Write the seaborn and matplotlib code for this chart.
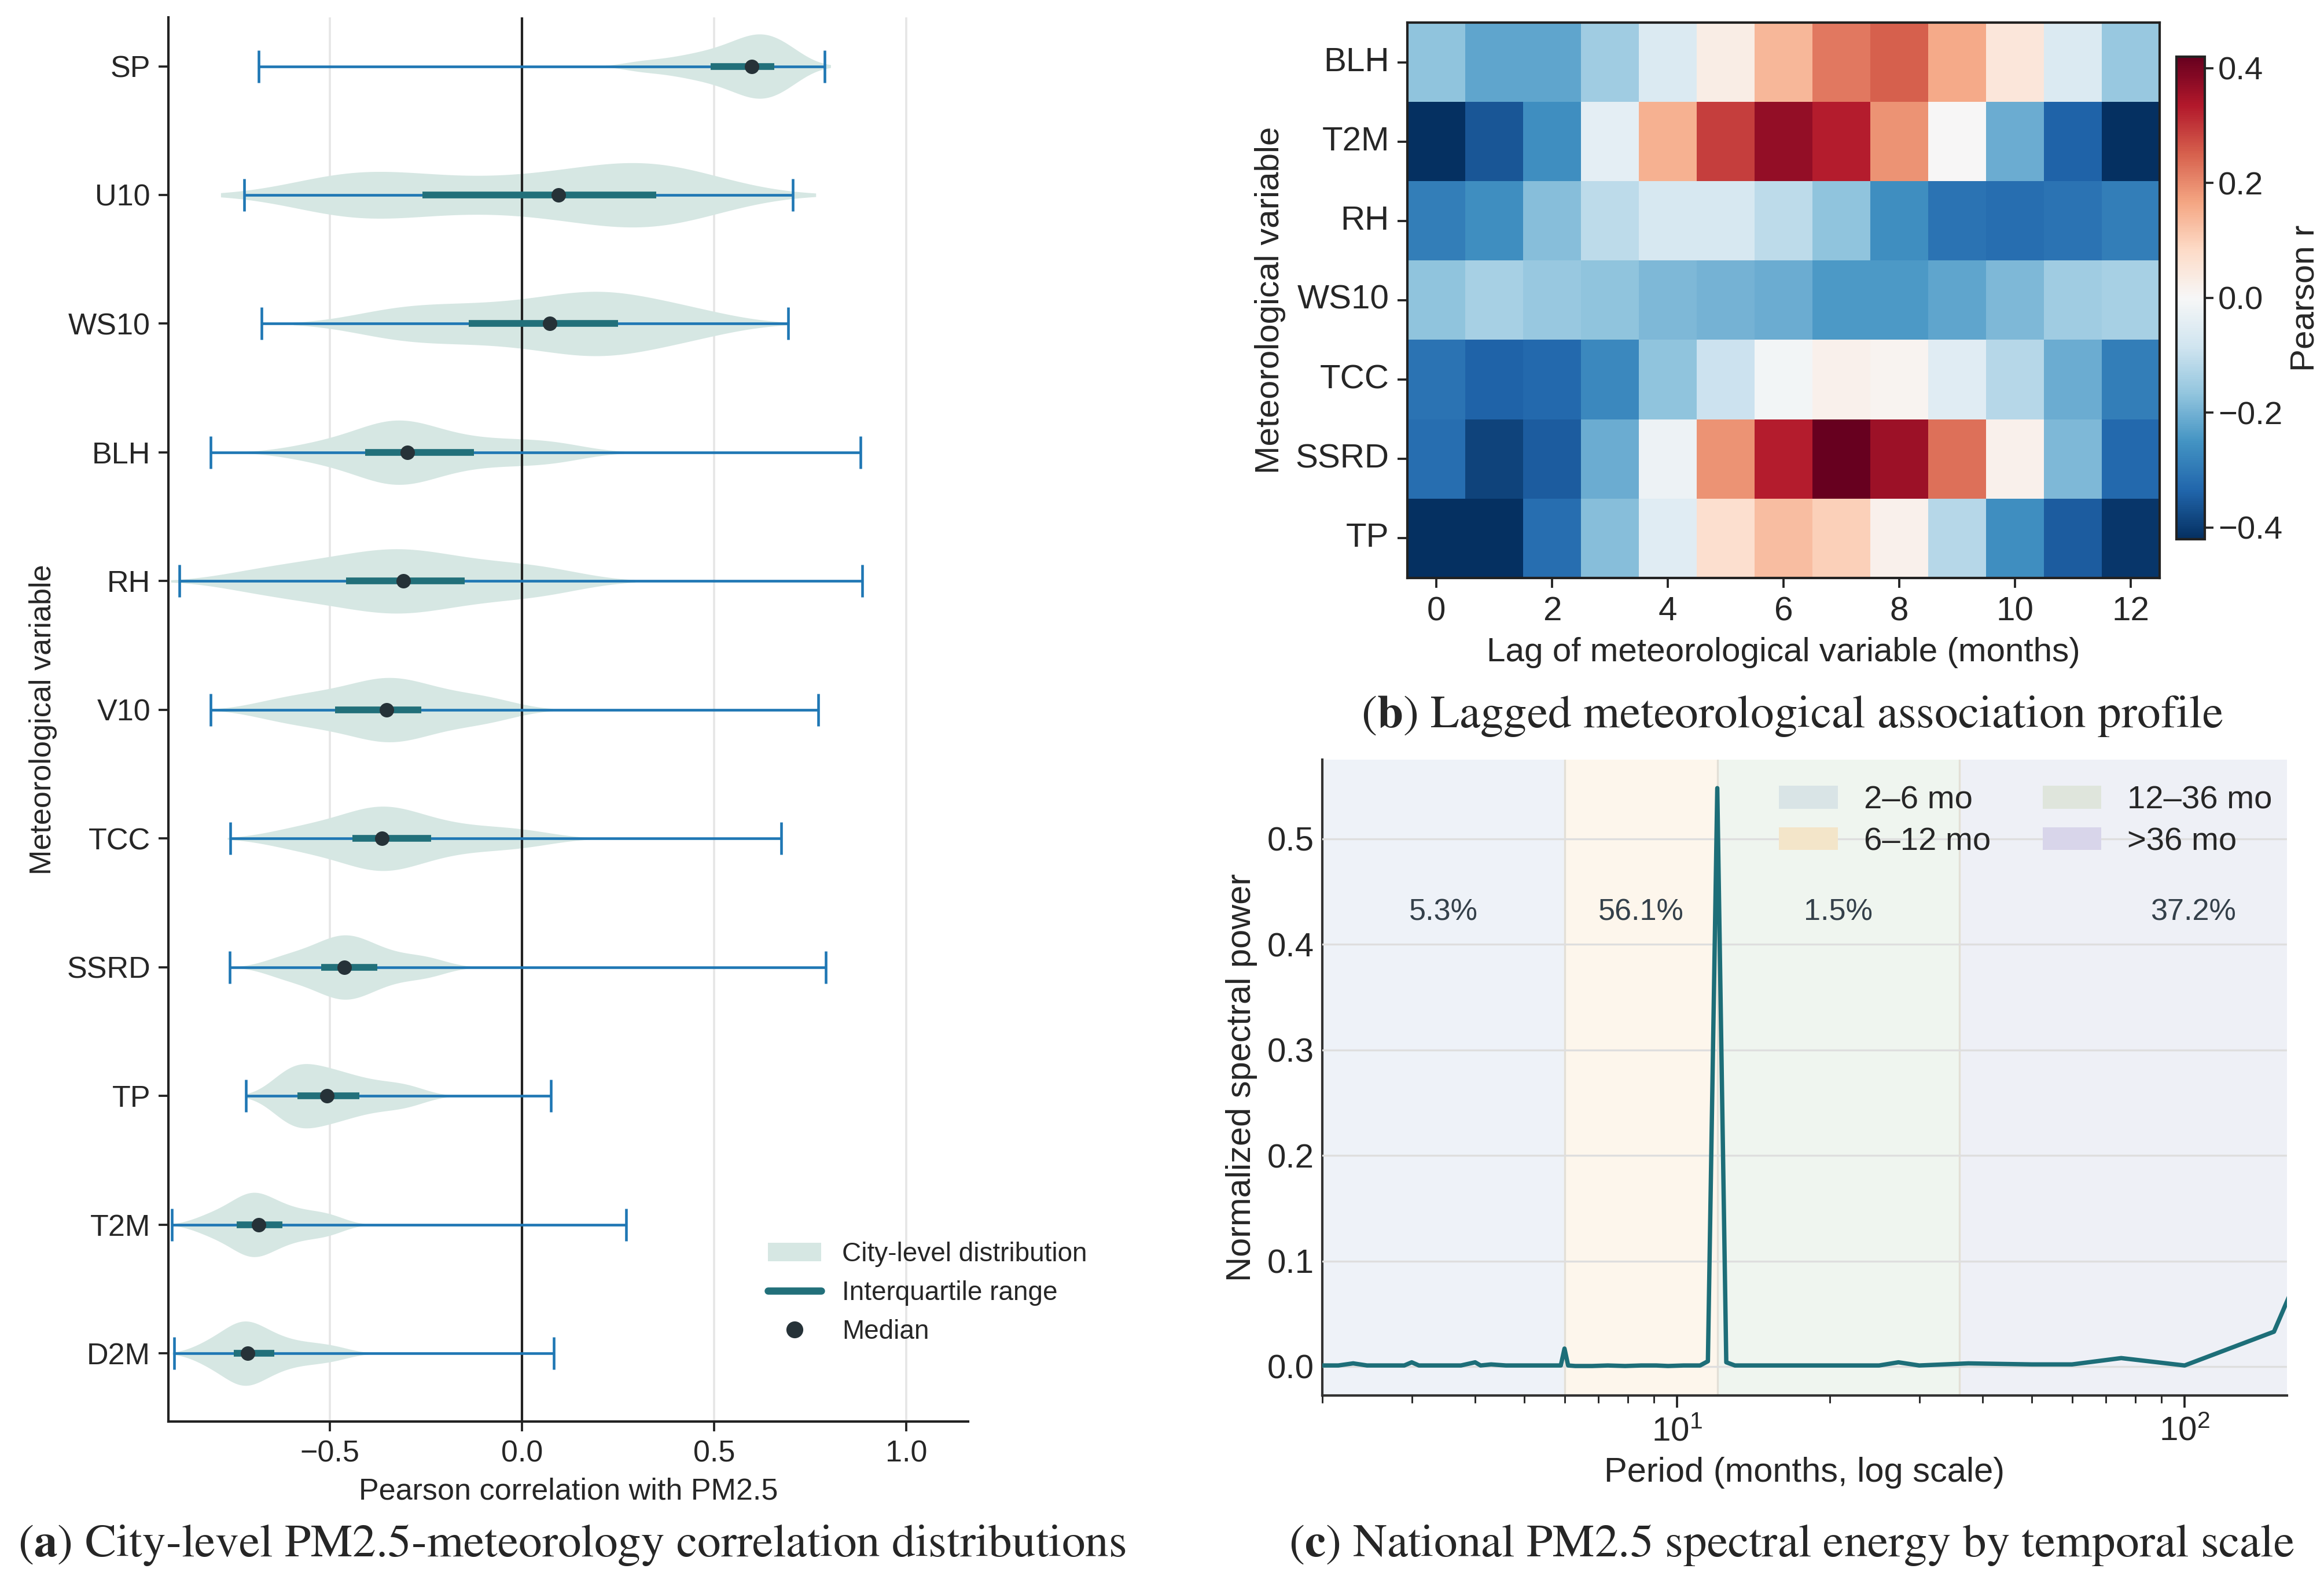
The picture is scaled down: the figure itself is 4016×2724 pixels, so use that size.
import numpy as np
import pandas as pd
import seaborn as sns
import matplotlib.pyplot as plt
from matplotlib.patches import Patch
from matplotlib.lines import Line2D

# ---------------- (a) city-level correlation distributions ----------------
variables = ["SP", "U10", "WS10", "BLH", "RH", "V10", "TCC", "SSRD", "TP", "T2M", "D2M"]
r_min = [-0.686, -0.723, -0.678, -0.810, -0.892, -0.810, -0.759, -0.760, -0.718, -0.911, -0.905]
r_max = [0.787, 0.704, 0.692, 0.880, 0.885, 0.771, 0.674, 0.790, 0.075, 0.270, 0.083]
r_q1 = [0.491, -0.260, -0.139, -0.408, -0.458, -0.486, -0.442, -0.523, -0.585, -0.743, -0.750]
r_med = [0.597, 0.095, 0.072, -0.298, -0.309, -0.352, -0.365, -0.463, -0.508, -0.685, -0.714]
r_q3 = [0.656, 0.349, 0.249, -0.126, -0.150, -0.262, -0.237, -0.376, -0.423, -0.624, -0.645]

# bulk of the city values (shape of each violin)
sp_r = [0.31, 0.39, 0.44, 0.48, 0.51, 0.54, 0.56, 0.58, 0.60, 0.61, 0.62, 0.64, 0.65, 0.67, 0.69, 0.71]
u10_r = [-0.50, -0.47, -0.43, -0.37, -0.28, -0.18, -0.06, 0.05, 0.12, 0.20, 0.26, 0.30, 0.33, 0.37, 0.42, 0.48]
ws10_r = [-0.38, -0.31, -0.25, -0.17, -0.10, -0.03, 0.04, 0.09, 0.14, 0.18, 0.21, 0.24, 0.28, 0.34, 0.41, 0.48]
blh_r = [-0.56, -0.48, -0.42, -0.38, -0.36, -0.34, -0.32, -0.30, -0.28, -0.25, -0.21, -0.15, -0.09, -0.02, 0.05, 0.11]
rh_r = [-0.72, -0.63, -0.56, -0.50, -0.45, -0.40, -0.36, -0.33, -0.30, -0.27, -0.22, -0.17, -0.11, -0.04, 0.03, 0.10]
v10_r = [-0.66, -0.59, -0.54, -0.49, -0.45, -0.41, -0.38, -0.36, -0.34, -0.32, -0.29, -0.26, -0.22, -0.17, -0.11, -0.06]
tcc_r = [-0.62, -0.55, -0.50, -0.45, -0.42, -0.39, -0.37, -0.36, -0.34, -0.31, -0.28, -0.24, -0.19, -0.12, -0.05, 0.03]
ssrd_r = [-0.64, -0.60, -0.56, -0.53, -0.51, -0.49, -0.47, -0.46, -0.45, -0.43, -0.41, -0.39, -0.36, -0.32, -0.27, -0.23]
tp_r = [-0.63, -0.62, -0.60, -0.59, -0.57, -0.56, -0.54, -0.52, -0.50, -0.48, -0.46, -0.43, -0.40, -0.36, -0.32, -0.28]
t2m_r = [-0.83, -0.79, -0.76, -0.74, -0.72, -0.71, -0.70, -0.69, -0.68, -0.66, -0.64, -0.62, -0.59, -0.56, -0.52, -0.49]
d2m_r = [-0.83, -0.80, -0.77, -0.75, -0.74, -0.73, -0.72, -0.71, -0.70, -0.68, -0.66, -0.64, -0.61, -0.57, -0.53, -0.48]

# ---------------- (b) lagged correlation profile ----------------
heat_vars = ["BLH", "T2M", "RH", "WS10", "TCC", "SSRD", "TP"]
lags = list(range(13))
blh_lag = [-0.17, -0.22, -0.22, -0.15, -0.06, 0.03, 0.14, 0.22, 0.25, 0.16, 0.05, -0.06, -0.16]
t2m_lag = [-0.42, -0.36, -0.26, -0.04, 0.15, 0.29, 0.37, 0.33, 0.19, 0.00, -0.21, -0.34, -0.42]
rh_lag = [-0.29, -0.26, -0.18, -0.11, -0.07, -0.07, -0.11, -0.17, -0.26, -0.31, -0.32, -0.31, -0.29]
ws10_lag = [-0.17, -0.14, -0.16, -0.17, -0.19, -0.20, -0.21, -0.24, -0.24, -0.22, -0.19, -0.15, -0.14]
tcc_lag = [-0.31, -0.34, -0.33, -0.27, -0.17, -0.09, -0.01, 0.02, 0.01, -0.05, -0.12, -0.21, -0.29]
ssrd_lag = [-0.32, -0.39, -0.35, -0.21, -0.02, 0.19, 0.33, 0.42, 0.36, 0.23, 0.02, -0.19, -0.33]
tp_lag = [-0.42, -0.42, -0.32, -0.18, -0.05, 0.07, 0.13, 0.10, 0.02, -0.12, -0.26, -0.35, -0.41]

# ---------------- (c) spectrum ----------------
spec_period = [2.0, 2.15, 2.3, 2.45, 2.6, 2.75, 2.9, 3.0, 3.1, 3.3, 3.5, 3.75, 4.0, 4.1, 4.3,
               4.6, 5.0, 5.4, 5.8, 5.9, 6.0, 6.1, 6.3, 6.8, 7.3, 7.9, 8.5, 9.1, 9.6, 10.3,
               11.1, 11.5, 12.0, 12.5, 13.0, 14.3, 16.7, 20.0, 23.1, 25.0, 27.3, 30.0, 37.5,
               50.0, 60.0, 75.0, 100.0, 150.0, 300.0]
spec_power = [0.001, 0.001, 0.003, 0.001, 0.001, 0.001, 0.001, 0.004, 0.001, 0.001, 0.001, 0.001, 0.004, 0.001, 0.002,
              0.001, 0.001, 0.001, 0.001, 0.001, 0.017, 0.001, 0.0005, 0.0005, 0.001, 0.0005, 0.001, 0.001, 0.0005, 0.001,
              0.001, 0.005, 0.548, 0.004, 0.001, 0.001, 0.001, 0.001, 0.001, 0.001, 0.004, 0.001, 0.003,
              0.002, 0.002, 0.008, 0.001, 0.033, 0.37]
band_names = ["2\u20136 mo", "6\u201312 mo", "12\u201336 mo", ">36 mo"]
band_lo = [2, 6, 12, 36]
band_hi = [6, 12, 36, 300]
band_share = ["5.3%", "56.1%", "1.5%", "37.2%"]

VIOLIN = "#d6e7e3"
IQR_C = "#22707a"
MED_C = "#263238"
WHISK = "#1f77b4"
LINE_C = "#1d6e78"
band_bg = ["#eef2f8", "#fdf6ec", "#eff5ef", "#eef0f6"]
band_patch = ["#d9e4e6", "#f3e5c9", "#dfe5dc", "#d8d5ea"]

sns.set_theme(style="ticks")
plt.rcParams["font.family"] = ["Liberation Sans", "DejaVu Sans"]
plt.rcParams["mathtext.fontset"] = "stix"

fig = plt.figure(figsize=(4016 / 300, 2724 / 300), dpi=300)

# ---- panel a ----
ax_a = fig.add_axes([0.0725, 0.098, 0.344, 0.891])
samples = [sp_r, u10_r, ws10_r, blh_r, rh_r, v10_r, tcc_r, ssrd_r, tp_r, t2m_r, d2m_r]
df_a = pd.DataFrame({"variable": np.repeat(variables, [len(s) for s in samples]),
                     "r": np.concatenate(samples)})
ax_a.grid(axis="x", color="#e6e6e6", lw=0.9)
ax_a.set_axisbelow(True)
sns.violinplot(data=df_a, x="r", y="variable", order=variables, orient="h", inner=None,
               color=VIOLIN, saturation=1, linewidth=0, density_norm="width", width=0.5,
               bw_adjust=0.8, cut=1.8, ax=ax_a)
ax_a.axvline(0, color="#222222", lw=1.0, zorder=2)
ypos = np.arange(len(variables))
med = np.array(r_med)
ax_a.errorbar(med, ypos, xerr=[med - np.array(r_min), np.array(r_max) - med], fmt="none",
              ecolor=WHISK, elinewidth=1.1, capsize=6.7, capthick=1.1, zorder=3)
ax_a.hlines(ypos, r_q1, r_q3, color=IQR_C, lw=2.8, zorder=4)
ax_a.scatter(r_med, ypos, s=36, color=MED_C, zorder=5, linewidths=0)
ax_a.set_xlim(-0.92, 1.16)
ax_a.set_ylim(10.53, -0.38)
ax_a.set_xticks([-0.5, 0.0, 0.5, 1.0])
ax_a.set_xlabel("Pearson correlation with PM2.5", fontsize=12.5)
ax_a.set_ylabel("Meteorological variable", fontsize=12.5)
ax_a.tick_params(labelsize=12.5, length=4, width=0.9, color="#222222")
for s in ["top", "right"]:
    ax_a.spines[s].set_visible(False)
for s in ["left", "bottom"]:
    ax_a.spines[s].set_color("#222222")
    ax_a.spines[s].set_linewidth(1.0)
handles = [Patch(facecolor=VIOLIN, edgecolor="none"),
           Line2D([], [], color=IQR_C, lw=3),
           Line2D([], [], color=MED_C, marker="o", ls="", markersize=6)]
ax_a.legend(handles, ["City-level distribution", "Interquartile range", "Median"],
            loc="upper left", bbox_to_anchor=(0.72, 0.145), frameon=False, fontsize=11,
            handlelength=2.0, labelspacing=0.5)

# ---- panel b ----
ax_b = fig.add_axes([0.6056, 0.6333, 0.3237, 0.3524])
cax = fig.add_axes([0.9365, 0.658, 0.0122, 0.306])
heat = pd.DataFrame([blh_lag, t2m_lag, rh_lag, ws10_lag, tcc_lag, ssrd_lag, tp_lag],
                    index=heat_vars, columns=lags)
sns.heatmap(heat, cmap="RdBu_r", vmin=-0.42, vmax=0.42, ax=ax_b, cbar_ax=cax,
            xticklabels=2, cbar_kws={"ticks": [-0.4, -0.2, 0.0, 0.2, 0.4]})
ax_b.set_xlabel("Lag of meteorological variable (months)", fontsize=14)
ax_b.set_ylabel("Meteorological variable", fontsize=14)
ax_b.tick_params(labelsize=14, length=4, width=0.9, color="#222222")
ax_b.tick_params(axis="y", rotation=0)
ax_b.tick_params(axis="x", rotation=0)
for s in ax_b.spines.values():
    s.set_visible(True)
    s.set_color("#222222")
    s.set_linewidth(1.0)
cbar = ax_b.collections[0].colorbar
cbar.outline.set_edgecolor("#222222")
cbar.outline.set_linewidth(1.0)
cax.tick_params(labelsize=13.5, length=3.5, width=0.9, pad=2)
cax.set_ylabel("Pearson r", fontsize=14, labelpad=3)

# ---- panel c ----
ax_c = fig.add_axes([0.569, 0.1145, 0.415, 0.4035])
for lo, hi, col in zip(band_lo, band_hi, band_bg):
    ax_c.axvspan(lo, hi, color=col, lw=0, zorder=0)
for edge in band_lo[1:]:
    ax_c.axvline(edge, color="#e3dfd6", lw=0.8, zorder=0.5)
ax_c.grid(axis="y", color="#dedede", lw=0.8, zorder=1)
ax_c.set_axisbelow(False)
sns.lineplot(x=spec_period, y=spec_power, color=LINE_C, lw=1.8, ax=ax_c, zorder=3)
ax_c.set_xscale("log")
ax_c.set_xlim(2.0, 159)
ax_c.set_ylim(-0.0275, 0.575)
for lo, hi, txt in zip(band_lo, band_hi, band_share):
    ax_c.text(np.sqrt(lo * hi), 0.43, txt, ha="center", va="center", fontsize=12.5,
              color="#34404a")
ax_c.set_xlabel("Period (months, log scale)", fontsize=14.3)
ax_c.set_ylabel("Normalized spectral power", fontsize=14.3)
ax_c.tick_params(labelsize=14, color="#222222")
ax_c.tick_params(axis="y", length=0)
ax_c.tick_params(axis="x", which="major", length=5, width=0.9)
ax_c.tick_params(axis="x", which="minor", length=3, width=0.7)
for s in ["top", "right"]:
    ax_c.spines[s].set_visible(False)
for s in ["left", "bottom"]:
    ax_c.spines[s].set_color("#333333")
    ax_c.spines[s].set_linewidth(1.0)
bh = [Patch(facecolor=c, edgecolor="none") for c in band_patch]
ax_c.legend(bh, band_names, ncol=2, loc="upper right", bbox_to_anchor=(1.005, 0.99),
            borderaxespad=0.2, frameon=False, fontsize=13.5, handlelength=1.8,
            columnspacing=1.6, labelspacing=0.35)

# ---- captions ----
cap_kw = dict(family="STIXGeneral", fontsize=19.5, ha="center", va="center")
fig.text(0.246, 0.0195, r"($\mathbf{a}$) City-level PM2.5-meteorology correlation distributions", **cap_kw)
fig.text(0.771, 0.5455, r"($\mathbf{b}$) Lagged meteorological association profile", **cap_kw)
fig.text(0.771, 0.0195, r"($\mathbf{c}$) National PM2.5 spectral energy by temporal scale", **cap_kw)

fig.savefig("out.png", dpi=300)
